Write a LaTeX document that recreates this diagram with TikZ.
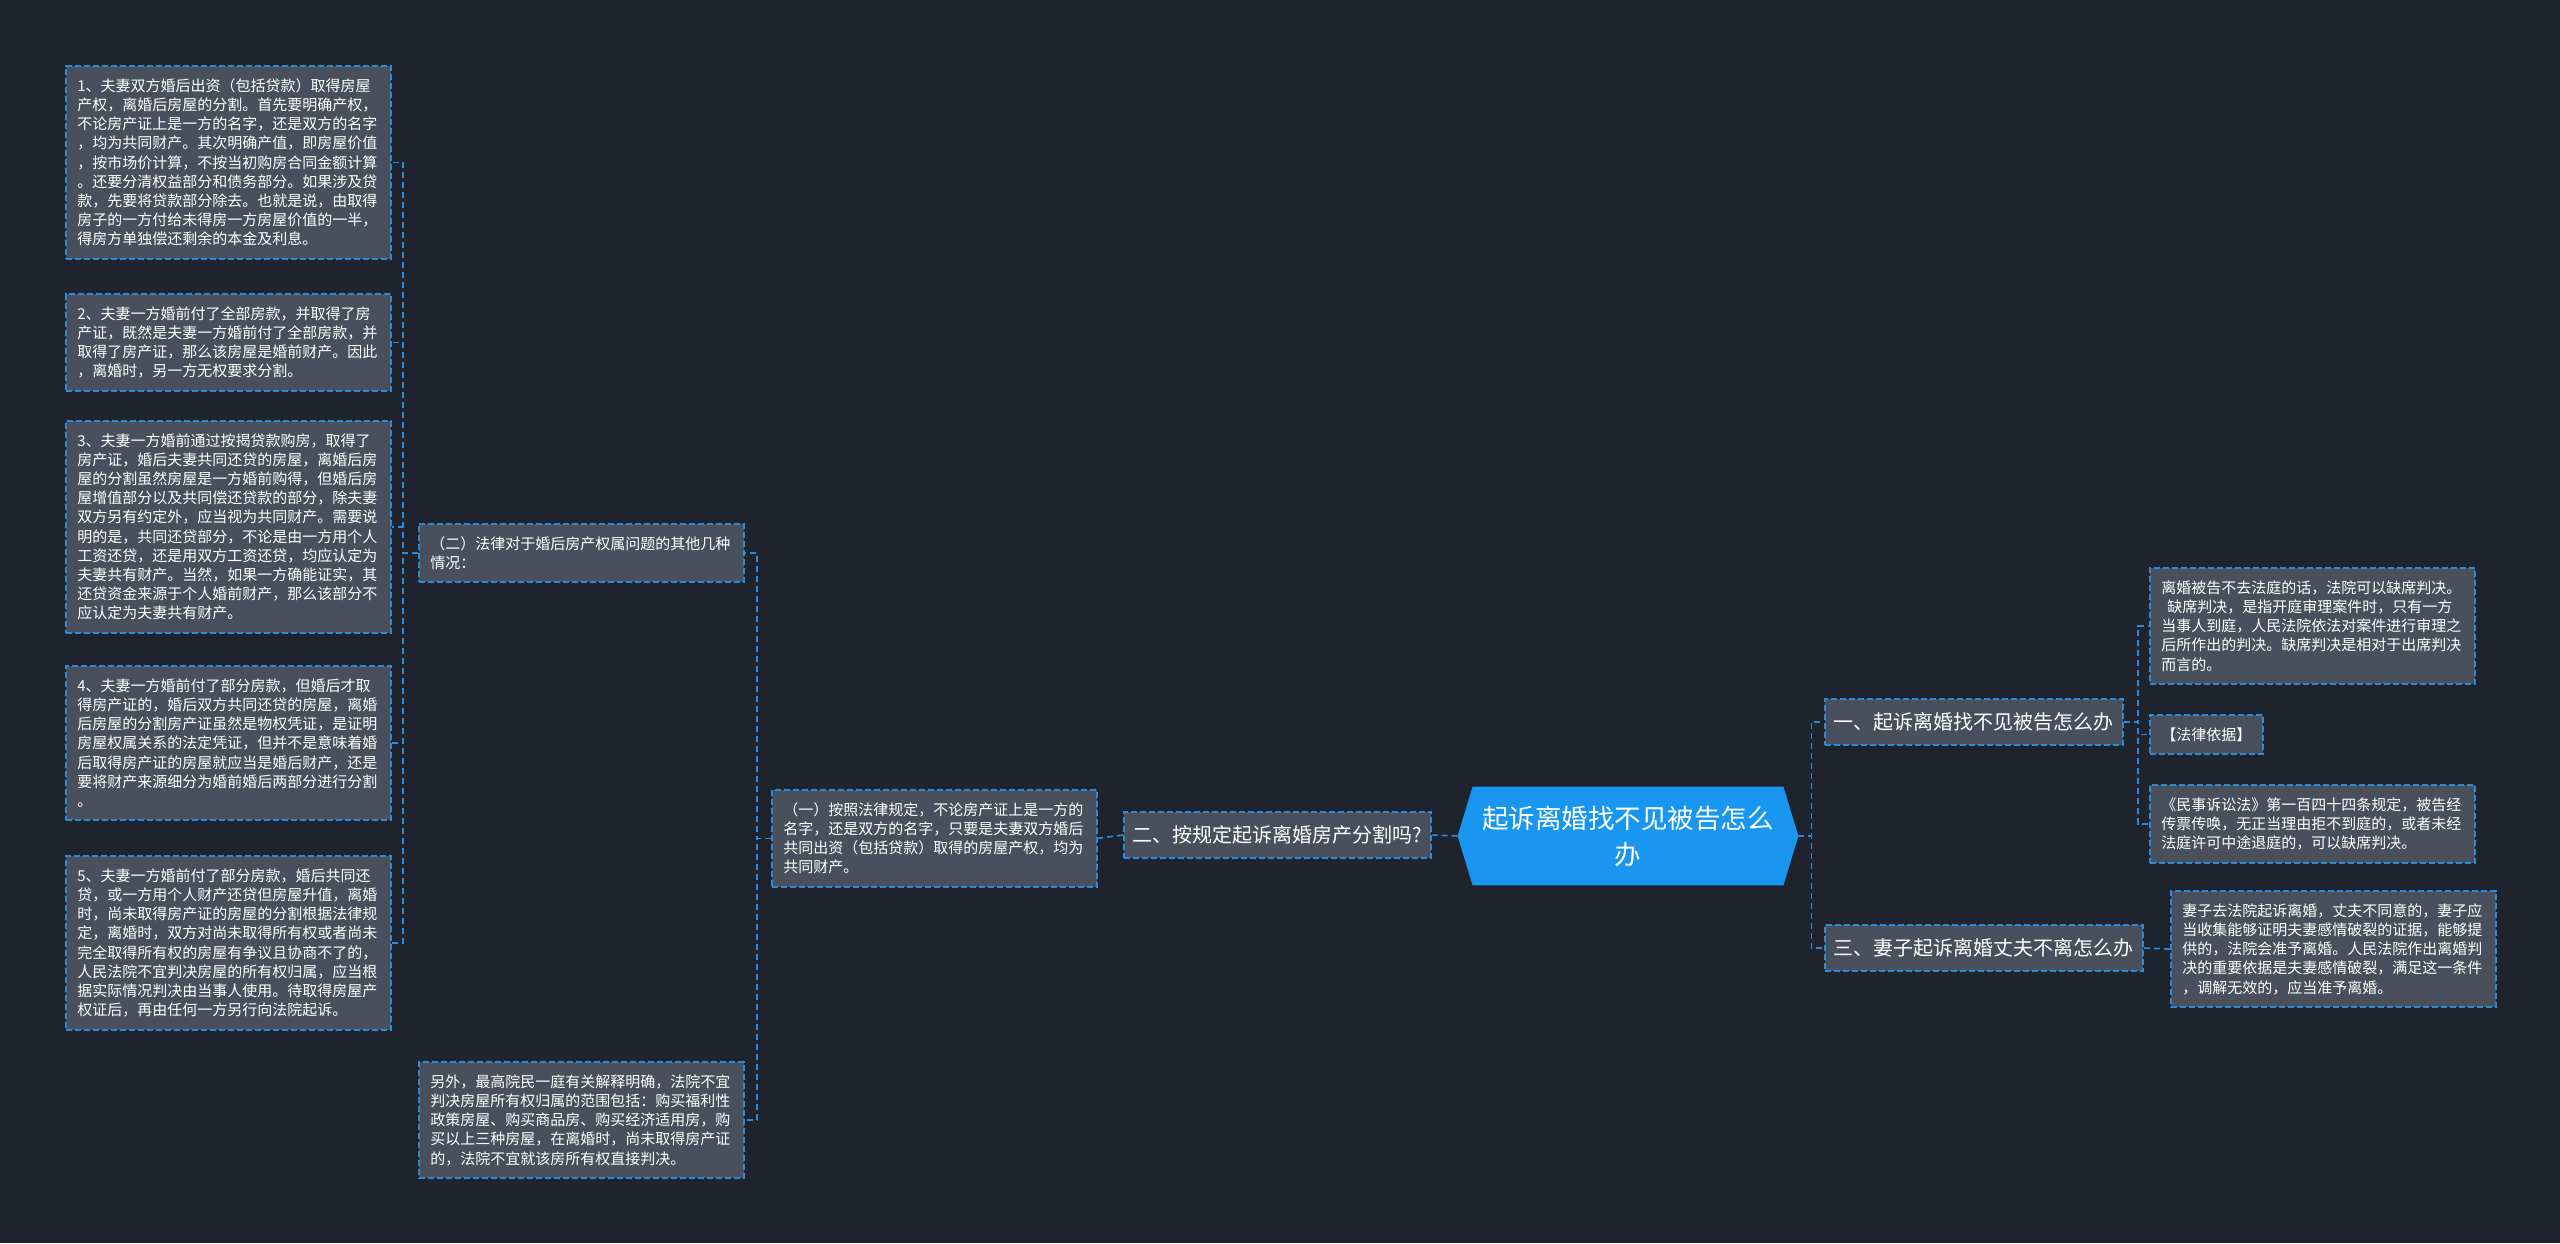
\documentclass[tikz,border=0pt]{standalone}
\usepackage{fontspec}
\setmainfont{Noto Sans CJK SC}
\usepackage{xcolor}
\usepackage{tikz}
\usetikzlibrary{
  arrows.meta,
  positioning,
  calc,
  backgrounds
}

\definecolor{bgdark}{RGB}{31,35,46}
\definecolor{boxgray}{RGB}{73,79,93}
\definecolor{linkblue}{RGB}{42,140,215}
\definecolor{rootblue}{RGB}{25,150,240}

\tikzset{
  leaf/.style={draw=linkblue, fill=boxgray, line width=0.9pt,
    dash pattern=on 3pt off 1.5pt, text=white, anchor=north west,
    font=\fontsize{7.5}{9.6}\selectfont, align=left, text width=151pt,
    inner xsep=5.75pt, inner ysep=6.3pt},
  topic/.style={draw=linkblue, fill=boxgray, line width=0.9pt,
    dash pattern=on 3pt off 1.5pt, text=white, anchor=west,
    font=\fontsize{10}{12}\selectfont, inner xsep=4.5pt,
    minimum height=23pt},
  link/.style={draw=linkblue, line width=0.8pt, dash pattern=on 3pt off 2pt}
}

\begin{document}
\begin{tikzpicture}[x=0.5pt,y=-0.5pt]
  % Background
  \begin{scope}[on background layer]
    \fill[bgdark] (0,0) rectangle (2560,1243);
  \end{scope}
  \useasboundingbox (0,0) rectangle (2560,1243);

  % Central topic
  \node[text=white, font=\fontsize{13.25}{18}\selectfont, align=center,
        text width=146pt, minimum width=155pt, minimum height=49pt,
        inner sep=0pt] (root) at (1628,836)
        {起诉离婚找不见被告怎么\\办};
  \coordinate (rootL) at ([xshift=-7.5pt]root.west);
  \coordinate (rootR) at ([xshift=7.5pt]root.east);
  \begin{scope}[on background layer]
    \fill[rootblue] (rootL) -- (root.north west) -- (root.north east)
      -- (rootR) -- (root.south east) -- (root.south west) -- cycle;
  \end{scope}

  % Left branch
  \node[topic] (secB) at (1123,835) {二、按规定起诉离婚房产分割吗?};
  \node[leaf] (lawA) at (771,789)
    {（一）按照法律规定，不论房产证上是一方的\\名字，还是双方的名字，只要是夫妻双方婚后\\共同出资（包括贷款）取得的房屋产权，均为\\共同财产。};
  \node[leaf] (lawB) at (418,523)
    {（二）法律对于婚后房产权属问题的其他几种\\情况：};
  \node[leaf] (lawNote) at (418,1061)
    {另外，最高院民一庭有关解释明确，法院不宜\\判决房屋所有权归属的范围包括：购买福利性\\政策房屋、购买商品房、购买经济适用房，购\\买以上三种房屋，在离婚时，尚未取得房产证\\的，法院不宜就该房所有权直接判决。};

  % Cases
  \node[leaf] (caseA) at (65,65)
    {1、夫妻双方婚后出资（包括贷款）取得房屋\\产权，离婚后房屋的分割。首先要明确产权，\\不论房产证上是一方的名字，还是双方的名字\\，均为共同财产。其次明确产值，即房屋价值\\，按市场价计算，不按当初购房合同金额计算\\。还要分清权益部分和债务部分。如果涉及贷\\款，先要将贷款部分除去。也就是说，由取得\\房子的一方付给未得房一方房屋价值的一半，\\得房方单独偿还剩余的本金及利息。};
  \node[leaf] (caseB) at (65,293)
    {2、夫妻一方婚前付了全部房款，并取得了房\\产证，既然是夫妻一方婚前付了全部房款，并\\取得了房产证，那么该房屋是婚前财产。因此\\，离婚时，另一方无权要求分割。};
  \node[leaf] (caseC) at (65,420)
    {3、夫妻一方婚前通过按揭贷款购房，取得了\\房产证，婚后夫妻共同还贷的房屋，离婚后房\\屋的分割虽然房屋是一方婚前购得，但婚后房\\屋增值部分以及共同偿还贷款的部分，除夫妻\\双方另有约定外，应当视为共同财产。需要说\\明的是，共同还贷部分，不论是由一方用个人\\工资还贷，还是用双方工资还贷，均应认定为\\夫妻共有财产。当然，如果一方确能证实，其\\还贷资金来源于个人婚前财产，那么该部分不\\应认定为夫妻共有财产。};
  \node[leaf] (caseD) at (65,665)
    {4、夫妻一方婚前付了部分房款，但婚后才取\\得房产证的，婚后双方共同还贷的房屋，离婚\\后房屋的分割房产证虽然是物权凭证，是证明\\房屋权属关系的法定凭证，但并不是意味着婚\\后取得房产证的房屋就应当是婚后财产，还是\\要将财产来源细分为婚前婚后两部分进行分割\\。};
  \node[leaf] (caseE) at (65,855)
    {5、夫妻一方婚前付了部分房款，婚后共同还\\贷，或一方用个人财产还贷但房屋升值，离婚\\时，尚未取得房产证的房屋的分割根据法律规\\定，离婚时，双方对尚未取得所有权或者尚未\\完全取得所有权的房屋有争议且协商不了的，\\人民法院不宜判决房屋的所有权归属，应当根\\据实际情况判决由当事人使用。待取得房屋产\\权证后，再由任何一方另行向法院起诉。};

  % Right branch
  \node[topic] (secA) at (1824,722) {一、起诉离婚找不见被告怎么办};
  \node[topic] (secC) at (1824,948) {三、妻子起诉离婚丈夫不离怎么办};
  \node[leaf] (absent) at (2149,567)
    {离婚被告不去法庭的话，法院可以缺席判决。\\\hspace*{3pt}缺席判决，是指开庭审理案件时，只有一方\\当事人到庭，人民法院依法对案件进行审理之\\后所作出的判决。缺席判决是相对于出席判决\\而言的。};
  \node[leaf, text width=45pt] (basis) at (2149,714) {【法律依据】};
  \node[leaf] (civil) at (2149,784)
    {《民事诉讼法》第一百四十四条规定，被告经\\传票传唤，无正当理由拒不到庭的，或者未经\\法庭许可中途退庭的，可以缺席判决。};
  \node[leaf] (wife) at (2170,890)
    {妻子去法院起诉离婚，丈夫不同意的，妻子应\\当收集能够证明夫妻感情破裂的证据，能够提\\供的，法院会准予离婚。人民法院作出离婚判\\决的重要依据是夫妻感情破裂，满足这一条件\\，调解无效的，应当准予离婚。};

  % Connectors
  \draw[link] (rootL) -- (secB.east);
  \draw[link] (secB.west) -- (lawA.east);
  \draw[link] (lawA.west) -- ++(-7pt,0) |- (lawB.east);
  \draw[link] (lawA.west) -- ++(-7pt,0) |- (lawNote.east);
  \foreach \n in {caseA,caseB,caseC,caseD,caseE}
    \draw[link] (lawB.west) -- ++(-7.5pt,0) |- (\n.east);
  \draw[link] (rootR) -- ++(6.5pt,0) |- (secA.west);
  \draw[link] (rootR) -- ++(6.5pt,0) |- (secC.west);
  \foreach \n in {absent,basis,civil}
    \draw[link] (secA.east) -- ++(7pt,0) |- (\n.west);
  \draw[link] (secC.east) -- (wife.west);
\end{tikzpicture}
\end{document}
